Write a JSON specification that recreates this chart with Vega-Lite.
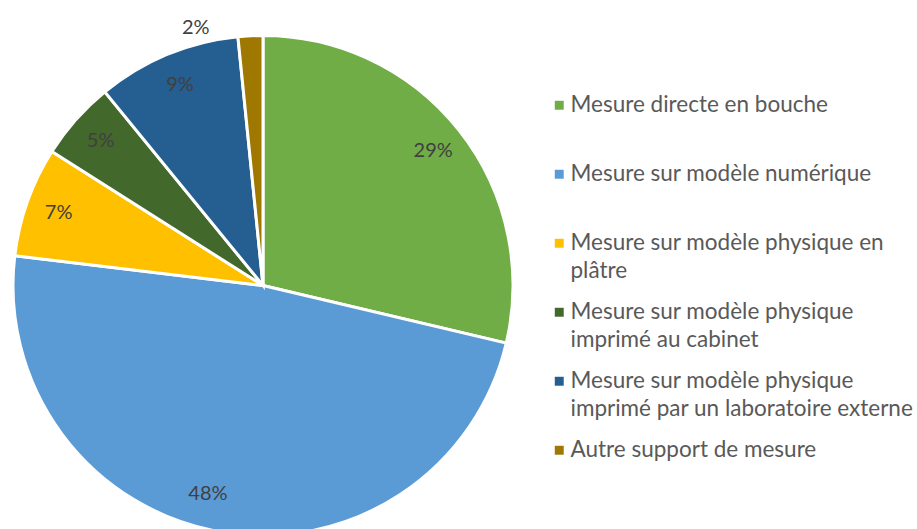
{
  "$schema": "https://vega.github.io/schema/vega-lite/v6.json",
  "autosize": "none",
  "padding": {"left": 0, "top": 0, "right": 391, "bottom": -42},
  "width": 526,
  "height": 571,
  "background": "white",
  "config": {
    "view": {"stroke": null},
    "style": {"guide-label": {"lineHeight": 28}}
  },
  "data": {
    "values": [
      {"support": "Mesure directe en bouche", "value": 0.287, "rank": 1},
      {"support": "Mesure sur modèle numérique", "value": 0.482, "rank": 2},
      {"support": "Mesure sur modèle physique en plâtre", "value": 0.071, "rank": 3},
      {"support": "Mesure sur modèle physique imprimé au cabinet", "value": 0.051, "rank": 4},
      {"support": "Mesure sur modèle physique imprimé par un laboratoire externe", "value": 0.093, "rank": 5},
      {"support": "Autre support de mesure", "value": 0.016, "rank": 6}
    ]
  },
  "encoding": {
    "theta": {"field": "value", "type": "quantitative", "stack": true},
    "order": {"field": "rank", "type": "quantitative"}
  },
  "layer": [
    {
      "mark": {"type": "arc", "outerRadius": 250, "stroke": "white", "strokeWidth": 3},
      "encoding": {
        "color": {
          "field": "support",
          "type": "nominal",
          "sort": ["Mesure directe en bouche", "Mesure sur modèle numérique", "Mesure sur modèle physique en plâtre", "Mesure sur modèle physique imprimé au cabinet", "Mesure sur modèle physique imprimé par un laboratoire externe", "Autre support de mesure"],
          "scale": {
            "domain": ["Mesure directe en bouche", "Mesure sur modèle numérique", "Mesure sur modèle physique en plâtre", "Mesure sur modèle physique imprimé au cabinet", "Mesure sur modèle physique imprimé par un laboratoire externe", "Autre support de mesure"],
            "range": ["#70AD47", "#5B9BD5", "#FFC000", "#43682B", "#255E91", "#9E7800"]
          },
          "legend": {
            "orient": "none",
            "legendX": 548,
            "legendY": 94,
            "title": null,
            "symbolType": "square",
            "symbolSize": 80,
            "symbolStrokeWidth": 0,
            "labelFont": "Lato",
            "labelFontSize": 22.5,
            "labelColor": "#595959",
            "labelLimit": 400,
            "labelOffset": 0,
            "gridAlign": "all",
            "rowPadding": 18,
            "labelExpr": "datum.label == 'Mesure sur modèle physique en plâtre' ? ['Mesure sur modèle physique en', 'plâtre'] : datum.label == 'Mesure sur modèle physique imprimé au cabinet' ? ['Mesure sur modèle physique', 'imprimé au cabinet'] : datum.label == 'Mesure sur modèle physique imprimé par un laboratoire externe' ? ['Mesure sur modèle physique', 'imprimé par un laboratoire externe'] : datum.label"
          }
        }
      }
    },
    {
      "mark": {"type": "text", "radius": 217, "font": "Lato", "fontSize": 20, "fill": "#404040"},
      "encoding": {
        "text": {"field": "value", "type": "quantitative", "format": ".0%"},
        "opacity": {"condition": {"test": "datum.rank == 2 || datum.rank == 6", "value": 0}, "value": 1}
      }
    },
    {
      "mark": {"type": "text", "radius": 212, "dx": -18, "font": "Lato", "fontSize": 20, "fill": "#404040"},
      "encoding": {
        "text": {"field": "value", "type": "quantitative", "format": ".0%"},
        "opacity": {"condition": {"test": "datum.rank == 2", "value": 1}, "value": 0}
      }
    },
    {
      "mark": {"type": "text", "radius": 262, "dx": -54, "dy": 4, "font": "Lato", "fontSize": 20, "fill": "#404040"},
      "encoding": {
        "text": {"field": "value", "type": "quantitative", "format": ".0%"},
        "opacity": {"condition": {"test": "datum.rank == 6", "value": 1}, "value": 0}
      }
    }
  ]
}
